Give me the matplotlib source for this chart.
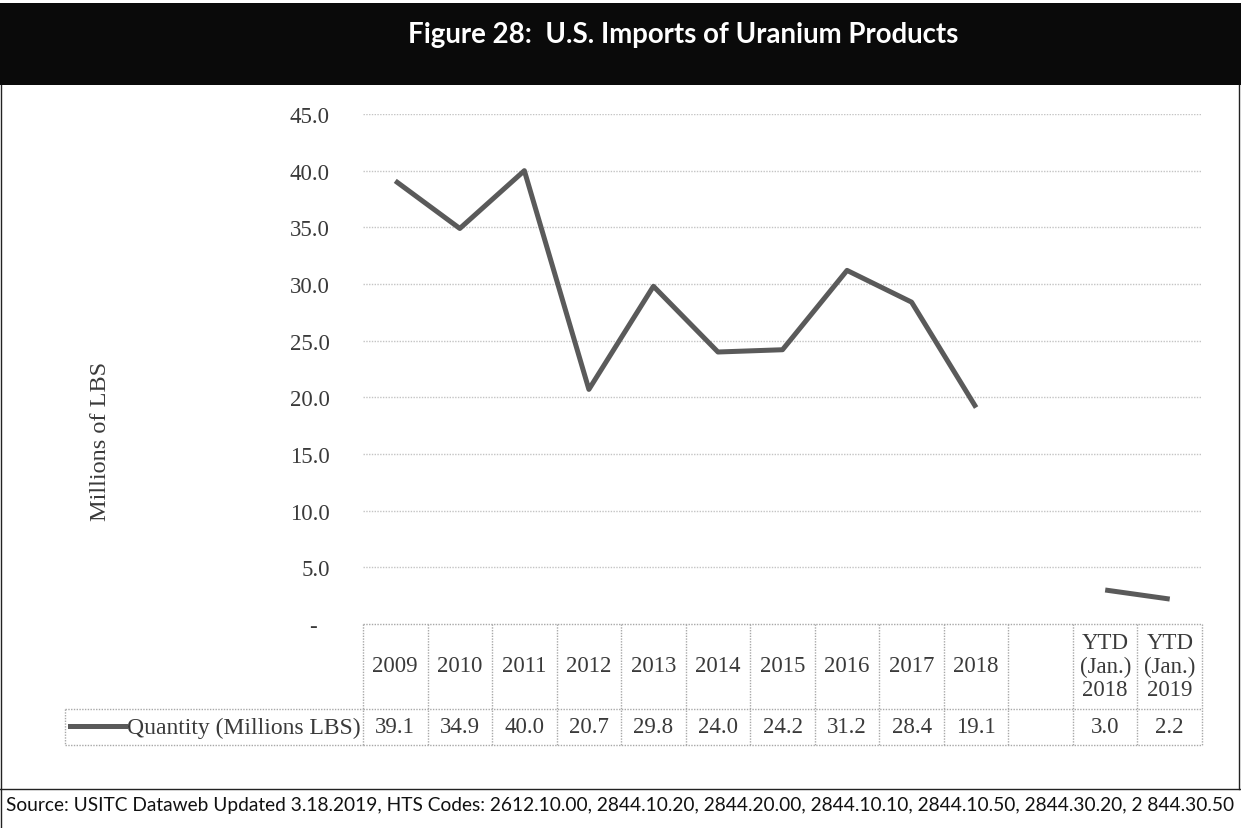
import numpy as np
import matplotlib
matplotlib.use("Agg")
import matplotlib.pyplot as plt
from matplotlib.transforms import blended_transform_factory
from matplotlib.lines import Line2D

# Данные графика
categories = ["2009", "2010", "2011", "2012", "2013", "2014", "2015",
              "2016", "2017", "2018", "", "YTD\n(Jan.)\n2018", "YTD\n(Jan.)\n2019"]
quantity = [39.1, 34.9, 40.0, 20.7, 29.8, 24.0, 24.2,
            31.2, 28.4, 19.1, np.nan, 3.0, 2.2]
value_labels = ["39.1", "34.9", "40.0", "20.7", "29.8", "24.0", "24.2",
                "31.2", "28.4", "19.1", "", "3.0", "2.2"]
y_ticks = [0, 5, 10, 15, 20, 25, 30, 35, 40, 45]
y_tick_labels = ["-  ", "5.0", "10.0", "15.0", "20.0", "25.0", "30.0",
                 "35.0", "40.0", "45.0"]

title = "Figure 28:  U.S. Imports of Uranium Products"
source = ("Source: USITC Dataweb Updated 3.18.2019, HTS Codes: 2612.10.00, 2844.10.20, "
          "2844.20.00, 2844.10.10, 2844.10.50, 2844.30.20, 2 844.30.50")
series_name = "Quantity (Millions LBS)"

W, H = 1241, 829
SERIF = "Liberation Serif"
TXT = "#3a3a3a"
LINE_C = "#5a5a5a"
GRID_C = "#c4c4c4"


def fx(px):
    return px / W


def fy(py):
    return 1 - py / H


fig = plt.figure(figsize=(W / 100, H / 100), dpi=100)
fig.patch.set_facecolor("white")

# Заголовок на чёрной плашке
fig.patches.append(plt.Rectangle((0, fy(86)), 1, fy(4) - fy(86), transform=fig.transFigure,
                                 facecolor="#0a0a0a", edgecolor="none", zorder=0))
renderer = fig.canvas.get_renderer()


def fit_text(x, y, s, width_px, **kw):
    t = fig.text(x, y, s, **kw)
    w = t.get_window_extent(renderer=renderer).width
    t.set_fontsize(t.get_fontsize() * width_px / w)
    return t


fit_text(fx(683), fy(35), title, 550, color="white", fontsize=22, fontweight="bold",
         family="Lato", ha="center", va="center")

# Рамка и линия над источником
fig.lines.append(Line2D([fx(1), fx(1)], [fy(86), 0], transform=fig.transFigure,
                        color="#222222", lw=1))
fig.lines.append(Line2D([fx(1239), fx(1239)], [fy(86), fy(790)], transform=fig.transFigure,
                        color="#222222", lw=1))
fig.lines.append(Line2D([0, 1], [fy(790), fy(790)], transform=fig.transFigure,
                        color="#222222", lw=1))
fit_text(fx(6), fy(806), source, 1228, color="#111111", fontsize=12,
         family="Lato", ha="left", va="center")

# Основной график
ax = fig.add_axes([fx(363), fy(625), fx(1202) - fx(363), fy(115) - fy(625)])
x = np.arange(len(categories))
ax.plot(x, quantity, color=LINE_C, lw=3.6, solid_capstyle="butt", zorder=3)
ax.set_xlim(-0.5, len(categories) - 0.5)
ax.set_ylim(0, 45)
ax.set_yticks(y_ticks)
ax.set_yticklabels(y_tick_labels, fontsize=16.5, family=SERIF, color=TXT)
ax.tick_params(axis="y", length=0, pad=24)
ax.set_xticks([])
for s in ax.spines.values():
    s.set_visible(False)
for v in y_ticks[1:]:
    ax.axhline(v, color=GRID_C, lw=1, ls=(0, (1, 1)), zorder=1)

fig.text(fx(100), fy(441), "Millions of LBS", rotation=90, fontsize=17.5, family=SERIF,
         color=TXT, ha="center", va="center")

# Таблица данных под графиком
tr = blended_transform_factory(ax.transData, fig.transFigure)
TBL_C = "#a8a8a8"
tbl_ls = (0, (1, 1))
top, mid, bot = fy(625), fy(710), fy(746)
for yy in (top, mid, bot):
    ax.add_line(Line2D([-0.5, len(categories) - 0.5], [yy, yy], transform=tr, color=TBL_C,
                       lw=1, ls=tbl_ls, clip_on=False))
for i in range(len(categories) + 1):
    ax.add_line(Line2D([i - 0.5, i - 0.5], [top, bot], transform=tr, color=TBL_C,
                       lw=1, ls=tbl_ls, clip_on=False))
for i, (c, v) in enumerate(zip(categories, value_labels)):
    ax.text(i, fy(667), c, transform=tr, ha="center", va="center", fontsize=16.5,
            family=SERIF, color=TXT, linespacing=1.15)
    ax.text(i, fy(728), v, transform=tr, ha="center", va="center", fontsize=16.5,
            family=SERIF, color=TXT)

# Ячейка легенды
for yy in (mid, bot):
    fig.lines.append(Line2D([fx(65), fx(363)], [yy, yy], transform=fig.transFigure,
                            color=TBL_C, lw=1, ls=tbl_ls))
fig.lines.append(Line2D([fx(65), fx(65)], [mid, bot], transform=fig.transFigure,
                        color=TBL_C, lw=1, ls=tbl_ls))
fig.lines.append(Line2D([fx(70), fx(125)], [fy(727), fy(727)], transform=fig.transFigure,
                        color=LINE_C, lw=3.6))
fig.text(fx(127), fy(728), series_name, fontsize=17, family=SERIF, color=TXT,
         ha="left", va="center")

fig.savefig("out.png", dpi=100)
